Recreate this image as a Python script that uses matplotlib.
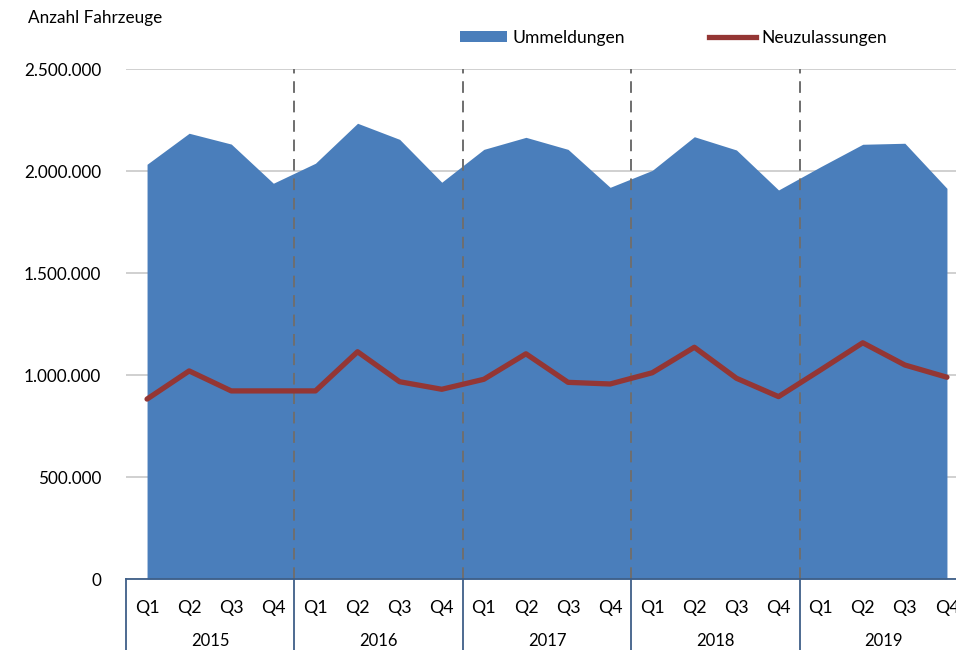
import matplotlib
matplotlib.use("Agg")
import matplotlib.pyplot as plt
from matplotlib.patches import Patch
from matplotlib.lines import Line2D

plt.rcParams['font.family'] = ['Lato', 'DejaVu Sans']

years = ['2015', '2016', '2017', '2018', '2019']
quarters = ['Q1', 'Q2', 'Q3', 'Q4']

# Ummeldungen (area), one value per quarter 2015 Q1 .. 2019 Q4
ummeldungen = [2033000, 2185000, 2132000, 1940000,
               2038000, 2234000, 2155000, 1945000,
               2106000, 2165000, 2106000, 1920000,
               2003000, 2168000, 2103000, 1907000,
               2021000, 2131000, 2136000, 1915000]

# Neuzulassungen (line)
neuzulassungen = [882000, 1020000, 922000, 922000,
                  922000, 1114000, 967000, 930000,
                  979000, 1104000, 964000, 956000,
                  1011000, 1136000, 984000, 894000,
                  1025000, 1158000, 1049000, 989000]

y_ticks = [0, 500000, 1000000, 1500000, 2000000, 2500000]

area_col = '#4a7ebb'
line_col = '#943634'
axis_col = '#3f5f88'


def de_fmt(v):
    return f'{v:,.0f}'.replace(',', '.')


W, H = 956, 650
fig = plt.figure(figsize=(W / 100, H / 100), dpi=100)
left, right, bottom, top = 126, 968, 579, 69
ax = fig.add_axes([left / W, 1 - bottom / H, (right - left) / W, (bottom - top) / H])

x = list(range(len(ummeldungen)))
ax.fill_between(x, 0, ummeldungen, color=area_col, linewidth=0, zorder=2)
ax.plot(x, neuzulassungen, color=line_col, linewidth=3.8, solid_capstyle='round', zorder=4)

ax.set_xlim(-0.5, len(x) - 0.5)
ax.set_ylim(0, 2500000)

# gridlines
ax.set_yticks(y_ticks)
ax.set_yticklabels([de_fmt(v) for v in y_ticks])
ax.yaxis.grid(True, color='#c8c8c8', linewidth=1.2, zorder=1)
ax.set_axisbelow(True)
ax.tick_params(axis='y', length=0, pad=18, labelsize=12.3, colors='#000000')

for s in ['left', 'right', 'top']:
    ax.spines[s].set_visible(False)
ax.spines['bottom'].set_color(axis_col)
ax.spines['bottom'].set_linewidth(1.3)
ax.spines['bottom'].set_zorder(5)

# quarter labels
ax.set_xticks(x)
ax.set_xticklabels(quarters * len(years))
ax.tick_params(axis='x', length=0, pad=15, labelsize=12.8)

# year dividers: dashed inside, solid below the axis
trans = ax.get_xaxis_transform()
bounds = [i * 4 - 0.5 for i in range(1, len(years))]
for b in bounds:
    ax.plot([b, b], [0, 1], transform=trans, color='#6e6e6e', linewidth=1.4,
            linestyle=(0, (6, 4)), zorder=3)
for b in [-0.5] + bounds:
    ax.plot([b, b], [0, -0.16], transform=trans, color=axis_col, linewidth=1.3,
            clip_on=False, zorder=5)

for i, yr in enumerate(years):
    ax.text(i * 4 + 1.5, -0.122, yr, transform=trans, ha='center', va='center',
            fontsize=12)

fig.text(28 / W, 1 - 18 / H, 'Anzahl Fahrzeuge', ha='left', va='center', fontsize=12.3)

handles = [Patch(facecolor=area_col, edgecolor='none', label='Ummeldungen'),
           Line2D([], [], color=line_col, linewidth=3.8, label='Neuzulassungen')]
fig.legend(handles=handles, loc='center left', bbox_to_anchor=(460 / W, 1 - 38 / H),
           ncol=2, frameon=False, fontsize=12.6, handlelength=2.7, handleheight=0.58,
           handletextpad=0.3, columnspacing=4.8, borderpad=0, borderaxespad=0)

fig.savefig('out.png', dpi=100)
